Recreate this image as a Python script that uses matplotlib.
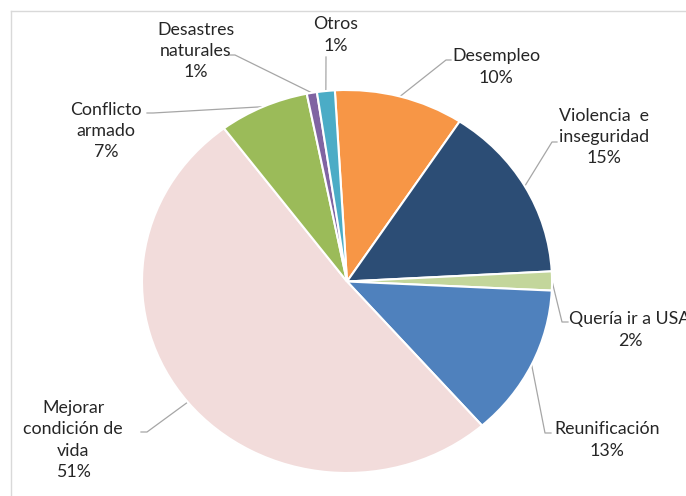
import numpy as np
import matplotlib
matplotlib.use("Agg")
import matplotlib.pyplot as plt
from matplotlib.lines import Line2D

# Data (share of each reason, % of total)
categorias = ["Desempleo", "Violencia  e\ninseguridad", "Quería ir a USA", "Reunificación",
              "Mejorar\ncondición de\nvida", "Conflicto\narmado", "Desastres\nnaturales", "Otros"]
valores = [10.2, 14.9, 1.6, 12.8, 51.2, 7.1, 0.8, 1.4]
colores = ["#F79646", "#2C4D75", "#C3D69B", "#4F81BD", "#F2DCDB", "#9BBB59", "#8064A2", "#4BACC6"]

# Layout in pixels (x from left, y from top) of label centers and leader line starts
W, H = 686, 496
pos_etiquetas = [(496, 67), (604, 137), (630, 330), (607, 440), (73, 440), (106, 131), (196, 51), (336, 35)]
inicio_guia = [((451, 60), (446, 60)), ((557, 142), (552, 142)), ((568, 322), (562, 322)),
               ((551, 433), (545, 433)), ((141, 432), (147, 432)), ((147, 113), (153, 113)),
               ((229, 55), (235, 55)), ((326, 57), (326, 57))]

plt.rcParams['font.family'] = ['Lato', 'DejaVu Sans']

fig = plt.figure(figsize=(W / 100, H / 100), dpi=100)
# pie bbox in pixels: x 142..552, y 90..473 (slightly squashed vertically)
ax = fig.add_axes([142 / W, (H - 473) / H, 410 / W, 383 / H])

start = 93.4
wedges, _ = ax.pie(valores, colors=colores, startangle=start, counterclock=False,
                   wedgeprops=dict(edgecolor="white", linewidth=1.5))
ax.set_aspect("auto")
ax.set_xlim(-1, 1)
ax.set_ylim(-1, 1)

total = sum(valores)
acum = np.cumsum([0] + valores[:-1])
inv = ax.transData.inverted()

def a_datos(p):
    return inv.transform((p[0], H - p[1]))

for i, (cat, v) in enumerate(zip(categorias, valores)):
    medio = acum[i] + v / 2
    ang = np.deg2rad(start - medio / total * 360)
    punta = (np.cos(ang), np.sin(ang))
    p0 = a_datos(inicio_guia[i][0])
    p1 = a_datos(inicio_guia[i][1])
    ax.add_line(Line2D([p0[0], p1[0], punta[0]], [p0[1], p1[1], punta[1]],
                       color="#A6A6A6", linewidth=0.9, clip_on=False, zorder=0))
    x, y = pos_etiquetas[i]
    fig.text(x / W, 1 - y / H, f"{cat}\n{v:.0f}%", ha="center", va="center",
             fontsize=12.8, color="#262626", linespacing=1.42)

# chart area border (cut off at right/bottom in the reference)
fig.add_artist(Line2D([10.5 / W, 10.5 / W], [0, 1 - 10.5 / H], color="#D9D9D9", linewidth=1,
                      transform=fig.transFigure))
fig.add_artist(Line2D([10.5 / W, 1], [1 - 10.5 / H, 1 - 10.5 / H], color="#D9D9D9", linewidth=1,
                      transform=fig.transFigure))

fig.savefig("out.png", dpi=100)
